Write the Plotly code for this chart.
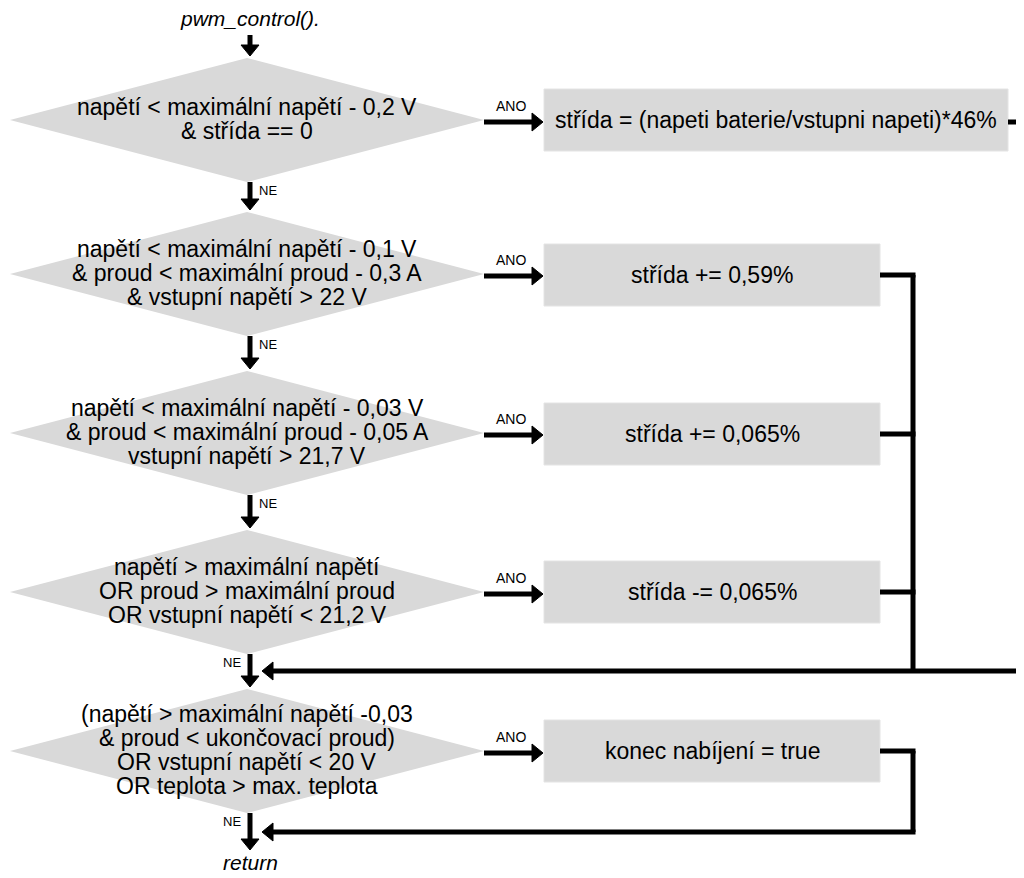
import plotly.graph_objects as go

W, H = 1024, 878
PAGE_OFF = 8  # default body margin of the html page
FONT = "Liberation Sans, Arial, sans-serif"

# ---- content ----
start_label = "pwm_control()."
end_label = "return"
yes_label = "ANO"
no_label = "NE"

decision_lines = [
    ["napětí < maximální napětí - 0,2 V", "& střída == 0"],
    ["napětí < maximální napětí - 0,1 V", "& proud < maximální proud - 0,3 A",
     "& vstupní napětí > 22 V"],
    ["napětí < maximální napětí - 0,03 V", "& proud < maximální proud - 0,05 A",
     "vstupní napětí > 21,7 V"],
    ["napětí > maximální napětí", "OR proud > maximální proud",
     "OR vstupní napětí < 21,2 V"],
    ["(napětí > maximální napětí -0,03", "& proud < ukončovací proud)",
     "OR vstupní napětí < 20 V", "OR teplota > max. teplota"],
]
action_labels = [
    "střída = (napeti baterie/vstupni napeti)*46%",
    "střída += 0,59%",
    "střída += 0,065%",
    "střída -= 0,065%",
    "konec nabíjení = true",
]

# ---- layout positions (pixels) ----
row_y = [120, 274, 433, 592, 751]
box_y = [120, 275, 434, 592, 751]
box_right = [1008, 880, 880, 880, 880]
no_side = [1, 1, 1, -1, -1]
box_left = 544
box_half = 31
dia_cx, dia_hw, dia_hh = 247, 237, 62
flow_x = 250
start_y, start_arrow_top = 18, 35
end_y, end_arrow_tip = 862, 850
merge_x = 913
merge_y = 671
final_y = 832
line_h = 24
TXT = 23

GRAY = "#d9d9d9"
LW = 5

shapes = []
annotations = []


def line(x0, y0, x1, y1):
    shapes.append(dict(type="line", x0=x0, y0=y0, x1=x1, y1=y1,
                       line=dict(color="black", width=LW), layer="above"))


def head(xt, yt, direction):
    L, hw = 11, 9
    if direction == "down":
        p = f"M{xt-hw},{yt-L} L{xt+hw},{yt-L} L{xt},{yt} Z"
    elif direction == "right":
        p = f"M{xt-L},{yt-hw} L{xt-L},{yt+hw} L{xt},{yt} Z"
    else:
        p = f"M{xt+L},{yt-hw} L{xt+L},{yt+hw} L{xt},{yt} Z"
    shapes.append(dict(type="path", path=p, fillcolor="black",
                       line=dict(color="black", width=1), layer="above"))


def arrow_down(x, y0, y1):
    line(x, y0, x, y1 - 8)
    head(x, y1, "down")


def arrow_right(x0, x1, y):
    line(x0, y, x1 - 8, y)
    head(x1, y, "right")


def arrow_left(x0, x1, y):
    line(x0, y, x1 + 8, y)
    head(x1, y, "left")


def text(x, y, s, size=TXT, italic=False, anchor="center"):
    annotations.append(dict(
        x=x, y=y, xref="x", yref="y", text=f"<i>{s}</i>" if italic else s,
        showarrow=False, xanchor=anchor, yanchor="middle",
        font=dict(family=FONT, size=size, color="black")))


# start
text(flow_x, start_y, start_label, size=21, italic=True)
arrow_down(flow_x, start_arrow_top, row_y[0] - dia_hh - 2)

for i, (lines_, yc) in enumerate(zip(decision_lines, row_y)):
    # diamond
    p = (f"M{dia_cx-dia_hw},{yc} L{dia_cx},{yc-dia_hh} "
         f"L{dia_cx+dia_hw},{yc} L{dia_cx},{yc+dia_hh} Z")
    shapes.append(dict(type="path", path=p, fillcolor=GRAY,
                       line=dict(width=0), layer="below"))
    n = len(lines_)
    for k, s in enumerate(lines_):
        text(dia_cx, yc - 1 + (k - (n - 1) / 2) * line_h, s)
    # action box
    by = box_y[i]
    shapes.append(dict(type="rect", x0=box_left, x1=box_right[i],
                       y0=by - box_half, y1=by + box_half, fillcolor=GRAY,
                       line=dict(color="#e4e4e4", width=1), layer="below"))
    text((box_left + box_right[i]) / 2, by, action_labels[i])
    # yes arrow
    arrow_right(dia_cx + dia_hw, box_left - 1, yc + 2)
    text(511, yc - 14, yes_label, size=14)
    # no arrow
    bottom = yc + dia_hh
    nxt = row_y[i + 1] - dia_hh - 2 if i + 1 < len(row_y) else end_arrow_tip
    arrow_down(flow_x, bottom, nxt)
    text(flow_x + no_side[i] * 18, bottom + 8, no_label, size=13)

# merge lines from action boxes
line(box_right[0], box_y[0] + 2, W + 10, box_y[0] + 2)
for i in range(1, 4):
    line(box_right[i], box_y[i], merge_x + LW / 2, box_y[i])
line(merge_x, box_y[1], merge_x, merge_y)
arrow_left(W + 10, flow_x + 12, merge_y)

line(box_right[4], box_y[4], merge_x + LW / 2, box_y[4])
line(merge_x, box_y[4], merge_x, final_y)
arrow_left(merge_x + LW / 2, flow_x + 12, final_y)

text(flow_x, end_y, end_label, size=21, italic=True)

fig = go.Figure()
fig.add_trace(go.Scatter(x=[PAGE_OFF, W], y=[PAGE_OFF, H], mode="markers",
                         marker=dict(opacity=0), hoverinfo="skip",
                         showlegend=False))
fig.update_layout(
    width=W - PAGE_OFF, height=H - PAGE_OFF, autosize=False,
    margin=dict(l=0, r=0, t=0, b=0),
    paper_bgcolor="white", plot_bgcolor="white",
    xaxis=dict(range=[PAGE_OFF, W], visible=False, fixedrange=True),
    yaxis=dict(range=[H, PAGE_OFF], visible=False, fixedrange=True),
    shapes=shapes, annotations=annotations, showlegend=False,
)
fig.write_html("out.html")
